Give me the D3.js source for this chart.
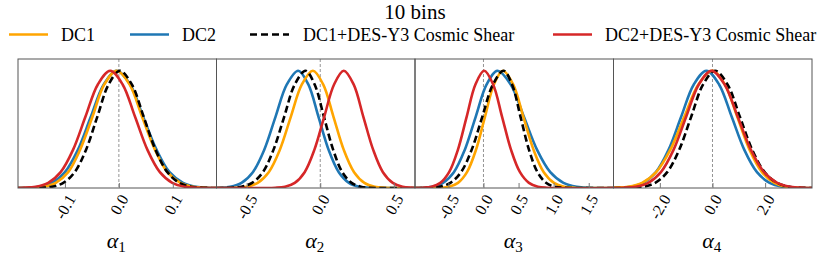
<!DOCTYPE html>
<html><head><meta charset="utf-8">
<script src="https://cdn.jsdelivr.net/npm/d3@7"></script>
<style>body{margin:0;background:#fff}svg{display:block}</style>
</head><body><svg id="c" width="830" height="257"></svg>
<script>
const title = "10 bins";
const seriesNames = ["DC1", "DC2", "DC1+DES-Y3 Cosmic Shear", "DC2+DES-Y3 Cosmic Shear"];
const seriesColors = ["#FFA500", "#1f77b4", "#000000", "#d62728"];
const paramNames = ["1", "2", "3", "4"];
const xDomains = [[-0.187, 0.181], [-0.705, 0.644], [-0.976, 1.853], [-3.76, 3.78]];
const tickValues = [[-0.1, 0.0, 0.1], [-0.5, 0.0, 0.5], [-0.5, 0.0, 0.5, 1.0, 1.5], [-2.0, 0.0, 2.0]];
const tickLabels = [["-0.1", "0.0", "0.1"], ["-0.5", "0.0", "0.5"], ["-0.5", "0.0", "0.5", "1.0", "1.5"], ["-2.0", "0.0", "2.0"]];

// normalised posterior density levels, and the x positions where each curve crosses them
const densityLevels = [0.002, 0.011, 0.044, 0.135, 0.325, 0.607, 0.883, 1, 0.883, 0.607, 0.325, 0.135, 0.044, 0.011, 0.002];

const alpha1_DC1    = [-0.162,-0.139,-0.117,-0.094,-0.072,-0.049,-0.027,-0.004,0.020,0.043,0.067,0.090,0.114,0.137,0.161];
const alpha1_DC2    = [-0.172,-0.148,-0.124,-0.100,-0.076,-0.052,-0.028,-0.004,0.021,0.045,0.070,0.094,0.119,0.143,0.168];
const alpha1_DC1DES = [-0.145,-0.124,-0.103,-0.082,-0.061,-0.040,-0.019,0.002,0.024,0.046,0.068,0.090,0.112,0.134,0.156];
const alpha1_DC2DES = [-0.177,-0.154,-0.131,-0.108,-0.085,-0.062,-0.039,-0.016,0.007,0.030,0.053,0.076,0.099,0.122,0.145];

const alpha2_DC1    = [-0.575,-0.500,-0.425,-0.350,-0.275,-0.200,-0.125,-0.050,0.020,0.090,0.160,0.230,0.300,0.370,0.440];
const alpha2_DC2    = [-0.689,-0.612,-0.535,-0.458,-0.381,-0.304,-0.227,-0.150,-0.081,-0.012,0.057,0.126,0.195,0.264,0.333];
const alpha2_DC1DES = [-0.608,-0.535,-0.463,-0.390,-0.318,-0.245,-0.173,-0.100,-0.038,0.025,0.088,0.150,0.213,0.275,0.338];
const alpha2_DC2DES = [-0.306,-0.239,-0.173,-0.106,-0.040,0.027,0.094,0.160,0.227,0.293,0.360,0.426,0.493,0.559,0.626];

const alpha3_DC1    = [-0.619,-0.491,-0.363,-0.235,-0.107,0.021,0.149,0.277,0.423,0.568,0.714,0.859,1.005,1.150,1.296];
const alpha3_DC2    = [-0.889,-0.733,-0.578,-0.422,-0.267,-0.111,0.045,0.200,0.388,0.576,0.764,0.952,1.140,1.328,1.516];
const alpha3_DC1DES = [-0.775,-0.623,-0.472,-0.320,-0.169,-0.017,0.135,0.286,0.407,0.528,0.649,0.770,0.891,1.012,1.133];
const alpha3_DC2DES = [-0.865,-0.740,-0.615,-0.490,-0.365,-0.240,-0.115,0.010,0.138,0.265,0.393,0.520,0.648,0.775,0.903];

const alpha4_DC1    = [-3.745,-3.21,-2.675,-2.14,-1.605,-1.07,-0.535,0.0,0.47,0.94,1.41,1.88,2.35,2.82,3.29];
const alpha4_DC2    = [-3.59,-3.11,-2.63,-2.15,-1.67,-1.19,-0.71,-0.23,0.25,0.73,1.21,1.69,2.17,2.65,3.13];
const alpha4_DC1DES = [-3.085,-2.63,-2.175,-1.72,-1.265,-0.81,-0.355,0.1,0.57,1.04,1.51,1.98,2.45,2.92,3.39];
const alpha4_DC2DES = [-3.40,-2.92,-2.44,-1.96,-1.48,-1.00,-0.52,-0.04,0.46,0.96,1.46,1.96,2.46,2.96,3.46];

const curves = [
  [alpha1_DC1, alpha1_DC2, alpha1_DC1DES, alpha1_DC2DES],
  [alpha2_DC1, alpha2_DC2, alpha2_DC1DES, alpha2_DC2DES],
  [alpha3_DC1, alpha3_DC2, alpha3_DC1DES, alpha3_DC2DES],
  [alpha4_DC1, alpha4_DC2, alpha4_DC1DES, alpha4_DC2DES]
];

const svg = d3.select("#c");
const FONT = "'Liberation Serif', 'Times New Roman', serif";
const panelLeft = 18, panelW = 198.5, plotTop = 59, plotBottom = 188;
const y = d3.scaleLinear().domain([0, 1.1]).range([plotBottom, plotTop]);
const drawOrder = [1, 0, 2, 3];

// title
svg.append("text").attr("x", 415).attr("y", 18.5).attr("text-anchor", "middle")
  .style("font-family", FONT).style("font-size", "21px").text(title);

// legend
const legX = [[9, 48, 61], [130, 169, 182], [250, 289, 303], [553, 592, 605]];
seriesNames.forEach((name, i) => {
  svg.append("line").attr("x1", legX[i][0]).attr("x2", legX[i][1]).attr("y1", 34.5).attr("y2", 34.5)
    .attr("stroke", seriesColors[i]).attr("stroke-width", 2.6)
    .attr("stroke-dasharray", i === 2 ? "7,4" : null);
  svg.append("text").attr("x", legX[i][2]).attr("y", 41)
    .style("font-family", FONT).style("font-size", "18px").text(name);
});

const defs = svg.append("defs");

curves.forEach((set, p) => {
  const x0 = panelLeft + p * panelW;
  const x = d3.scaleLinear().domain(xDomains[p]).range([x0, x0 + panelW]);
  const g = svg.append("g");

  defs.append("clipPath").attr("id", "clip" + p).append("rect")
    .attr("x", x0).attr("y", plotTop).attr("width", panelW).attr("height", plotBottom - plotTop);

  // zero line
  g.append("line").attr("x1", x(0)).attr("x2", x(0)).attr("y1", plotTop).attr("y2", plotBottom)
    .attr("stroke", "#888").attr("stroke-width", 0.9).attr("stroke-dasharray", "3,2");

  const line = d3.line().x(d => x(d[0])).y(d => y(d[1])).curve(d3.curveCatmullRom.alpha(0.5));
  const cg = g.append("g").attr("clip-path", `url(#clip${p})`);
  drawOrder.forEach(s => {
    const pts = [[xDomains[p][0], 0]].concat(set[s].map((v, k) => [v, densityLevels[k]]), [[xDomains[p][1], 0]]);
    cg.append("path").attr("d", line(pts)).attr("fill", "none")
      .attr("stroke", seriesColors[s]).attr("stroke-width", 2.6)
      .attr("stroke-linejoin", "round")
      .attr("stroke-dasharray", s === 2 ? "7,3.5" : null);
  });

  // frame
  g.append("rect").attr("x", x0).attr("y", plotTop).attr("width", panelW).attr("height", plotBottom - plotTop)
    .attr("fill", "none").attr("stroke", "#555").attr("stroke-width", 1);

  // axis
  const axis = d3.axisBottom(x).tickValues(tickValues[p]).tickSizeInner(-5).tickSizeOuter(0)
    .tickFormat((d, i) => tickLabels[p][i]);
  const ag = g.append("g").attr("transform", `translate(0,${plotBottom})`).call(axis);
  ag.select(".domain").remove();
  ag.selectAll(".tick line").attr("stroke", "#777");
  ag.selectAll(".tick text")
    .style("font-family", FONT).style("font-size", "16px").attr("fill", "#000")
    .attr("y", null).attr("dy", "0.33em").attr("text-anchor", "middle")
    .each(function() {
      const w = this.getComputedTextLength();
      const h = 12;
      const a = Math.PI / 3;
      const bh = w * Math.sin(a) + h * Math.cos(a);
      d3.select(this).attr("transform", `translate(0,${5 + bh / 2}) rotate(-60)`);
    });

  // axis label
  const lab = svg.append("text").attr("x", x0 + panelW / 2 - 1).attr("y", 248).attr("text-anchor", "middle")
    .style("font-family", FONT).style("font-size", "22px");
  lab.append("tspan").style("font-style", "italic").text("α");
  lab.append("tspan").attr("dy", 4).style("font-size", "15px").text(paramNames[p]);
});
</script></body></html>
